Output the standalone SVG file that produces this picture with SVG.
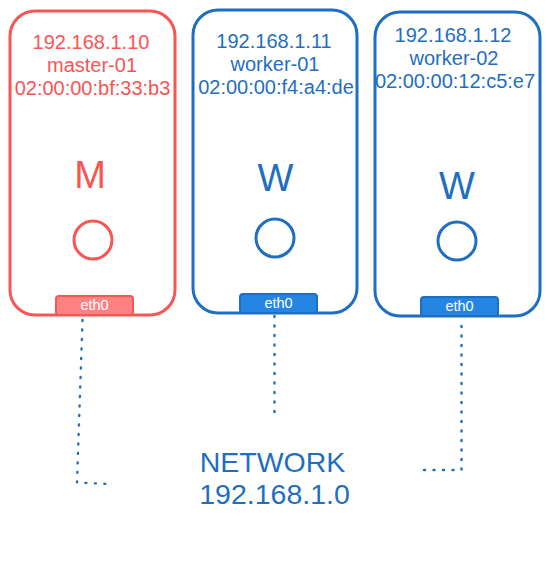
<svg xmlns="http://www.w3.org/2000/svg" width="552" height="572" viewBox="0 0 552 572">
<style>
text{font-family:"Liberation Sans",Arial,sans-serif;text-anchor:middle}
.box{fill:#fff;stroke-width:3}
.red .box,.red .port{stroke:#F85555}
.blue .box,.blue .port{stroke:#1F6FC0}
.red text.t{fill:#F85555}
.blue text.t{fill:#1F6FC0}
.info{font-size:20px}
.big{font-size:38px}
.ring{fill:none;stroke-width:3}
.red .ring{stroke:#F85555}
.blue .ring{stroke:#1F6FC0}
.port{stroke-width:2}
.red .port{fill:#FF8282}
.blue .port{fill:#2585E2}
.pl{font-size:14.5px;fill:#fff}
.link{fill:none;stroke:#1F6FC0;stroke-width:2.4;stroke-linecap:round;stroke-dasharray:1 8.5}
.net{font-size:28.5px;fill:#1F6FC0}
</style>
<g id="connectors">
<path class="link" d="M82.5 320 L77 482.5 L109 484"/>
<path class="link" d="M274.5 316 L274.5 412"/>
<path class="link" d="M461.5 326 L461.5 470 L424 470"/>
</g>
<g id="master-01" class="red">
<rect class="box" x="10" y="11" width="165" height="304" rx="25"/>
<text class="t info" x="91" y="49">192.168.1.10</text>
<text class="t info" x="92" y="72">master-01</text>
<text class="t info" x="92.5" y="95">02:00:00:bf:33:b3</text>
<text class="t big" x="90" y="188">M</text>
<circle class="ring" cx="93" cy="240" r="19"/>
<rect class="port" x="56" y="296" width="77" height="19" rx="3"/>
<text class="pl" x="94.5" y="310">eth0</text>
</g>
<g id="worker-01" class="blue">
<rect class="box" x="193" y="10" width="164" height="303" rx="25"/>
<text class="t info" x="274" y="48">192.168.1.11</text>
<text class="t info" x="275" y="71">worker-01</text>
<text class="t info" x="276" y="94">02:00:00:f4:a4:de</text>
<text class="t big" x="275.5" y="191">W</text>
<circle class="ring" cx="275" cy="238" r="19"/>
<rect class="port" x="240" y="294" width="77" height="19" rx="3"/>
<text class="pl" x="278.5" y="308">eth0</text>
</g>
<g id="worker-02" class="blue">
<rect class="box" x="375" y="12" width="165" height="304" rx="25"/>
<text class="t info" x="453" y="42">192.168.1.12</text>
<text class="t info" x="454" y="65">worker-02</text>
<text class="t info" x="455" y="88">02:00:00:12:c5:e7</text>
<text class="t big" x="457" y="199">W</text>
<circle class="ring" cx="457" cy="241" r="19"/>
<rect class="port" x="421" y="297" width="77" height="19" rx="3"/>
<text class="pl" x="459.5" y="311">eth0</text>
</g>
<g id="network">
<text class="net" x="272.5" y="471.5">NETWORK</text>
<text class="net" x="274.5" y="503.5">192.168.1.0</text>
</g>
</svg>
